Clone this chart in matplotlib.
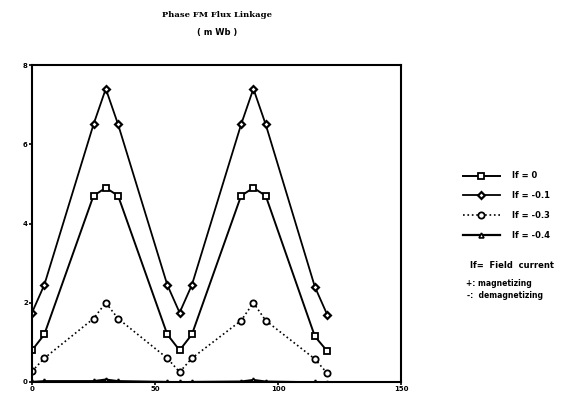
import matplotlib.pyplot as plt

# rotor position (deg) and flux linkage (mWb) for each field current
angle = [0, 5, 25, 30, 35, 55, 60, 65, 85, 90, 95, 115, 120]
flux_if0 = [0.8, 1.2, 4.7, 4.9, 4.7, 1.2, 0.8, 1.2, 4.7, 4.9, 4.7, 1.15, 0.78]
flux_if01 = [1.75, 2.45, 6.5, 7.4, 6.5, 2.45, 1.75, 2.45, 6.5, 7.4, 6.5, 2.4, 1.7]
flux_if03 = [0.27, 0.6, 1.6, 2.0, 1.6, 0.6, 0.25, 0.6, 1.55, 2.0, 1.55, 0.58, 0.22]
flux_if04 = [0.0, 0.02, 0.02, 0.06, 0.02, 0.0, -0.01, 0.0, 0.01, 0.05, 0.01, -0.01, -0.02]

labels = ['If = 0', 'If = -0.1', 'If = -0.3', 'If = -0.4']

plt.rcParams['font.family'] = 'DejaVu Sans'
plt.rcParams['font.weight'] = 'bold'

fig = plt.figure(figsize=(5.77, 3.96), dpi=100)
ax = fig.add_axes([32 / 577, 1 - 382 / 396, 369 / 577, 317 / 396])

ax.plot(angle, flux_if0, '-', color='black', lw=1.4, marker='s', ms=4.5,
        mfc='white', mec='black', mew=1.3, label=labels[0])
ax.plot(angle, flux_if01, '-', color='black', lw=1.3, marker='D', ms=3.5,
        mfc='white', mec='black', mew=1.6, label=labels[1])
ax.plot(angle, flux_if03, ':', color='black', lw=1.2, marker='o', ms=4.5,
        mfc='white', mec='black', mew=1.3, label=labels[2])
ax.plot(angle, flux_if04, '-', color='black', lw=1.6, marker='^', ms=3.5,
        mfc='white', mec='black', mew=1.2, label=labels[3])

ax.set_xlim(0, 150)
ax.set_ylim(0, 8)
ax.set_xticks([0, 50, 100, 150])
ax.set_yticks([0, 2, 4, 6, 8])
ax.tick_params(labelsize=5, length=2, width=1.2, direction='out', pad=1)
for s in ax.spines.values():
    s.set_linewidth(1.5)

fig.text(217 / 577, 1 - 15 / 396, 'Phase FM Flux Linkage', ha='center', va='center',
         fontsize=6, weight='bold', family='DejaVu Serif')
fig.text(217 / 577, 1 - 33 / 396, '( m Wb )', ha='center', va='center',
         fontsize=6, weight='bold')

fig.legend(loc='upper left', bbox_to_anchor=(455 / 577, 1 - 164 / 396), frameon=False,
           fontsize=6, handlelength=4.5, labelspacing=1.3, handletextpad=1.5)

fig.text(470 / 577, 1 - 265 / 396, 'If=  Field  current', fontsize=6, va='center')
fig.text(466 / 577, 1 - 283 / 396, '+: magnetizing', fontsize=5.5, va='center')
fig.text(467 / 577, 1 - 296 / 396, '-:  demagnetizing', fontsize=5.5, va='center')

fig.savefig('out.png', dpi=100)
